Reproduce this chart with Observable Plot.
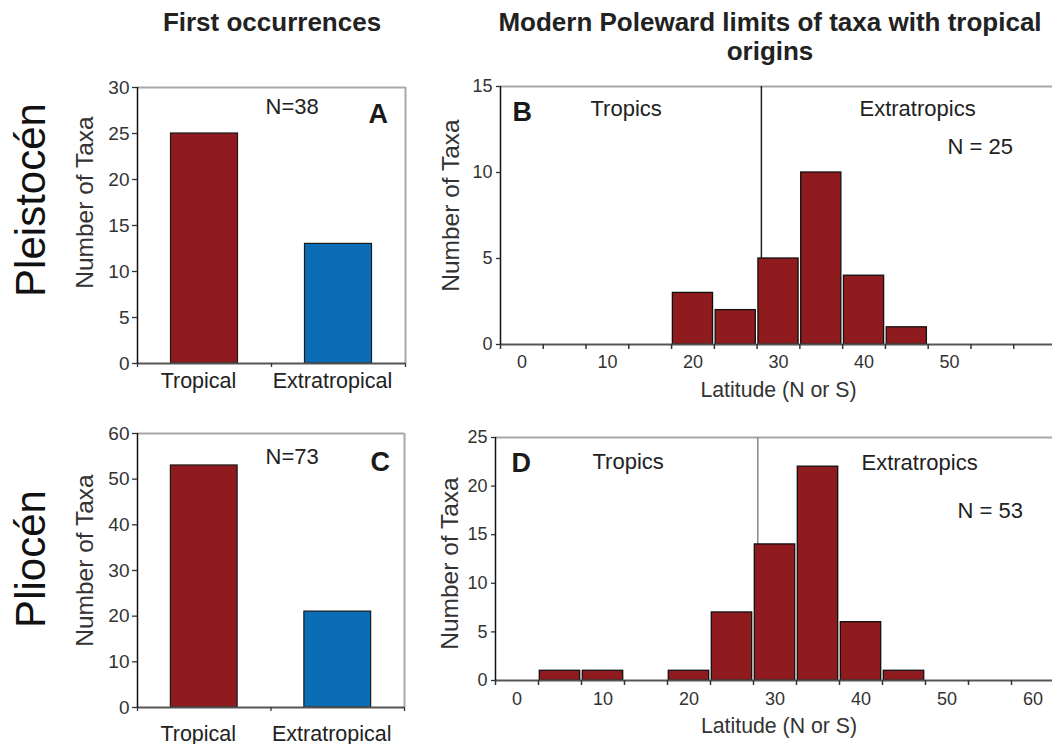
<!DOCTYPE html>
<html><head><meta charset="utf-8">
<script src="https://cdn.jsdelivr.net/npm/d3@7"></script>
<script src="https://cdn.jsdelivr.net/npm/@observablehq/plot@0.6"></script>
<style>
html,body{margin:0;padding:0;background:#fff;overflow:hidden;}
#fig{position:relative;width:1052px;height:744px;overflow:hidden;font-family:"Liberation Sans",Arial,sans-serif;color:#222;background:#fff;}
#fig svg{position:absolute;overflow:visible;}
.title{position:absolute;font-weight:bold;font-size:26px;line-height:29px;text-align:center;white-space:nowrap;color:#222;}
.row{position:absolute;font-size:42px;line-height:42px;white-space:nowrap;transform:translate(-50%,-50%) rotate(-90deg);color:#111;}
</style></head><body><div id="fig"></div>
<script>
// ---- data ----
const categories = ["Tropical", "Extratropical"];
const pleistoceneFirst = [25, 13];
const plioceneFirst = [53, 21];
const latitudeBins = [0, 5, 10, 15, 20, 25, 30, 35, 40, 45, 50, 55, 60];
const pleistoceneLimits = [0, 0, 0, 0, 3, 2, 5, 10, 4, 1, 0, 0, 0];
const plioceneLimits    = [0, 1, 1, 0, 1, 7, 14, 22, 6, 1, 0, 0, 0];
const tropicsBoundary = 28;
const firstTicksA = [0, 5, 10, 15, 20, 25, 30];
const firstTicksC = [0, 10, 20, 30, 40, 50, 60];
const limitTicksB = [0, 5, 10, 15];
const limitTicksD = [0, 5, 10, 15, 20, 25];
const latLabelsB = [0, 10, 20, 30, 40, 50];
const latLabelsD = [0, 10, 20, 30, 40, 50, 60];
const titles = ["First occurrences", "Modern Poleward limits of taxa with tropical", "origins"];
const rowLabels = ["Pleistocén", "Pliocén"];

const FONT = '"Liberation Sans", Arial, sans-serif';
const RED = "#8f1b1f", BLUE = "#0a6db5";
const fig = document.getElementById("fig");

function place(el, left, top) { el.style.left = left + "px"; el.style.top = top + "px"; fig.appendChild(el); }

function firstPanel(values, ticks, nText, letter, L) {
  const rows = categories.map((c, i) => ({category: c, index: i, count: values[i]}));
  const yMax = ticks[ticks.length - 1];
  const n = categories.length;
  return Plot.plot({
    width: L.w, height: L.h,
    marginLeft: L.ml, marginRight: L.mr, marginTop: L.mt, marginBottom: L.mb,
    x: {domain: [0, n]},
    y: {domain: [0, yMax]},
    color: {domain: categories, range: [RED, BLUE]},
    style: {fontFamily: FONT, fontSize: "19px", color: "#333", background: "transparent", overflow: "visible"},
    marks: [
      Plot.ruleY([yMax], {stroke: "#a8a8a8", strokeWidth: 2}),
      Plot.ruleX([n], {stroke: "#a8a8a8", strokeWidth: 2}),
      Plot.rectY(rows, {x1: d => d.index + 0.25, x2: d => d.index + 0.75, y: "count", fill: "category", stroke: "#1a1a1a", strokeWidth: 1.2}),
      Plot.ruleY([0], {stroke: "#555", strokeWidth: 2}),
      Plot.ruleX([0], {stroke: "#111", strokeWidth: 1.5}),
      Plot.axisY({ticks, tickSize: 5, tickPadding: 3, label: null, strokeWidth: 1.3}),
      Plot.axisX({ticks: d3.range(0, n + 1), tickSize: 4, tickFormat: () => "", label: null, strokeWidth: 1.3}),
      Plot.text(rows, {x: d => d.index + 0.5, frameAnchor: "bottom", text: "category", dx: -6, dy: L.catDy, lineAnchor: "bottom", fontSize: 21.5, fill: "#222"}),
      Plot.text(["Number of Taxa"], {text: d => d, frameAnchor: "left", rotate: -90, textAnchor: "middle", lineAnchor: "bottom", dx: L.ylDx, dy: L.ylDy, fontSize: 24.5, fill: "#333"}),
      Plot.text([nText], {text: d => d, frameAnchor: "top-left", textAnchor: "start", lineAnchor: "bottom", dx: L.nDx, dy: L.nDy, fontSize: 22, fill: "#222"}),
      Plot.text([letter], {text: d => d, frameAnchor: "top-left", textAnchor: "start", lineAnchor: "bottom", dx: L.letDx, dy: L.letDy, fontSize: 27, fontWeight: "bold", fill: "#1a1a1a"})
    ]
  });
}

function limitPanel(counts, ticks, latLabels, nText, letter, lineColor, L) {
  const rows = latitudeBins.map((lat, i) => ({lat, count: counts[i]})).filter(d => d.count > 0);
  const yMax = ticks[ticks.length - 1];
  const step = latitudeBins[1] - latitudeBins[0];
  const x0 = latitudeBins[0] - step / 2, x1 = latitudeBins[latitudeBins.length - 1] + step / 2;
  return Plot.plot({
    width: L.w, height: L.h,
    marginLeft: L.ml, marginRight: L.mr, marginTop: L.mt, marginBottom: L.mb,
    x: {domain: [x0, x1]},
    y: {domain: [0, yMax]},
    style: {fontFamily: FONT, fontSize: "18px", color: "#333", background: "transparent", overflow: "visible"},
    marks: [
      Plot.ruleY([yMax], {stroke: "#a8a8a8", strokeWidth: 2}),
      Plot.ruleX([tropicsBoundary], {y1: 0, y2: yMax, stroke: lineColor, strokeWidth: 1.5}),
      Plot.rectY(rows, {x1: d => d.lat - step / 2, x2: d => d.lat + step / 2, y: "count", insetLeft: 1.3, insetRight: 1.3, fill: RED, stroke: "#111", strokeWidth: 1.3}),
      Plot.ruleY([0], {stroke: "#555", strokeWidth: 2}),
      Plot.ruleX([x0], {stroke: "#111", strokeWidth: 1.5}),
      Plot.axisY({ticks, tickSize: 4, tickPadding: 4, label: null, strokeWidth: 1.3}),
      Plot.axisX({ticks: d3.range(x0, x1 + 0.01, step), tickSize: 5, tickFormat: () => "", label: null, strokeWidth: 1.5}),
      Plot.axisX({ticks: latLabels, tickSize: 0, tickPadding: L.xPad, label: null}),
      Plot.text(["Latitude (N or S)"], {text: d => d, frameAnchor: "bottom", textAnchor: "middle", lineAnchor: "bottom", dx: L.latDx, dy: L.latDy, fontSize: 21.3, fill: "#333"}),
      Plot.text(["Number of Taxa"], {text: d => d, frameAnchor: "left", rotate: -90, textAnchor: "middle", lineAnchor: "bottom", dx: L.ylDx, dy: L.ylDy, fontSize: 24.5, fill: "#333"}),
      Plot.text([letter], {text: d => d, frameAnchor: "top-left", textAnchor: "start", lineAnchor: "bottom", dx: L.letDx, dy: L.letDy, fontSize: 27, fontWeight: "bold", fill: "#1a1a1a"}),
      Plot.text(["Tropics"], {text: d => d, frameAnchor: "top-left", textAnchor: "start", lineAnchor: "bottom", dx: L.trDx, dy: L.trDy, fontSize: 22, fill: "#222"}),
      Plot.text(["Extratropics"], {text: d => d, frameAnchor: "top-left", textAnchor: "start", lineAnchor: "bottom", dx: L.exDx, dy: L.exDy, fontSize: 22, fill: "#222"}),
      Plot.text([nText], {text: d => d, frameAnchor: "top-left", textAnchor: "start", lineAnchor: "bottom", dx: L.nDx, dy: L.nDy, fontSize: 22, fill: "#222"})
    ]
  });
}

// titles
const t1 = document.createElement("div"); t1.className = "title"; t1.style.width = "400px"; t1.textContent = titles[0]; place(t1, 72, 8);
const t2 = document.createElement("div"); t2.className = "title"; t2.style.width = "600px"; t2.innerHTML = titles[1] + "<br>" + titles[2]; place(t2, 470, 8);

// row labels
const r1 = document.createElement("div"); r1.className = "row"; r1.textContent = rowLabels[0]; place(r1, 30.5, 200);
const r2 = document.createElement("div"); r2.className = "row"; r2.textContent = rowLabels[1]; place(r2, 30.5, 559);

// panels
const A = firstPanel(pleistoceneFirst, firstTicksA, "N=" + d3.sum(pleistoceneFirst), "A",
  {w: 430, h: 350, ml: 137, mr: 25, mt: 17, mb: 57, catDy: 24, ylDx: -45, ylDy: -23, nDx: 128, nDy: 26, letDx: 231, letDy: 35});
place(A, 0, 70);
const C = firstPanel(plioceneFirst, firstTicksC, "N=73", "C",
  {w: 430, h: 324, ml: 137, mr: 26, mt: 13, mb: 37, catDy: 33, ylDx: -45, ylDy: -10, nDx: 128, nDy: 30, letDx: 233, letDy: 37});
place(C, 0, 420);
const B = limitPanel(pleistoceneLimits, limitTicksB, latLabelsB, "N = " + d3.sum(pleistoceneLimits), "B", "#222",
  {w: 626, h: 350, ml: 70, mr: 0, mt: 16, mb: 76, xPad: 11, latDx: 0, latDy: 52, ylDx: -42, ylDy: -10,
   letDx: 12, letDy: 34, trDx: 90, trDy: 29, exDx: 359, exDy: 29, nDx: 447, nDy: 67});
place(B, 430, 70);
const D = limitPanel(plioceneLimits, limitTicksD, latLabelsD, "N = " + d3.sum(plioceneLimits), "D", "#888",
  {w: 624, h: 324, ml: 65, mr: 0, mt: 17, mb: 64, xPad: 12, latDx: 4, latDy: 52, ylDx: -38, ylDy: 4.5,
   letDx: 16, letDy: 34, trDx: 97, trDy: 31, exDx: 366, exDy: 32, nDx: 462, nDy: 80});
place(D, 430, 420);
</script></body></html>
